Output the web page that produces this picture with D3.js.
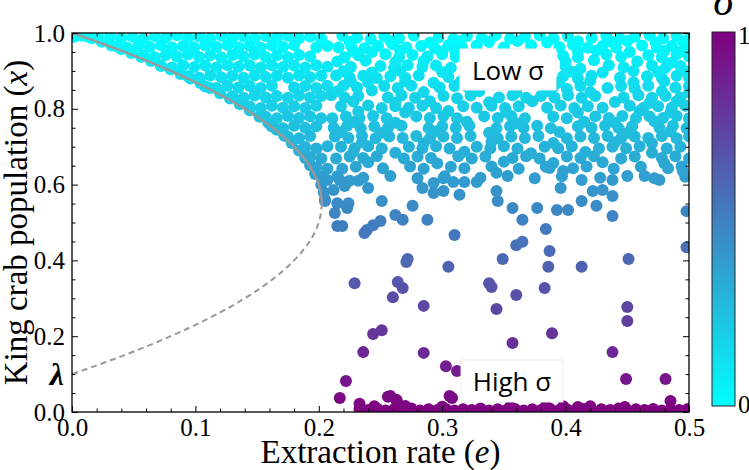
<!DOCTYPE html>
<html><head><meta charset="utf-8">
<script src="https://cdn.jsdelivr.net/npm/d3@7"></script>
<style>
html,body{margin:0;padding:0;background:#fff;}
svg{display:block;}
</style></head><body>
<svg id="chart" width="749" height="470"></svg>
<script>
// ---------- tick definitions ----------
const xTickValues = [0, 0.1, 0.2, 0.3, 0.4, 0.5];
const xTickLabels = ["0.0", "0.1", "0.2", "0.3", "0.4", "0.5"];
const xMinorTicks = [0.02,0.04,0.06,0.08,0.12,0.14,0.16,0.18,0.22,0.24,0.26,0.28,0.32,0.34,0.36,0.38,0.42,0.44,0.46,0.48];
const yTickValues = [0, 0.2, 0.4, 0.6, 0.8, 1.0];
const yTickLabels = ["0.0", "0.2", "0.4", "0.6", "0.8", "1.0"];
const yMinorTicks = [0.05,0.1,0.15,0.25,0.3,0.35,0.45,0.5,0.55,0.65,0.7,0.75,0.85,0.9,0.95];
const colorbarTicks = [0, 1];

// ---------- equilibrium curve (rate e, population x) ----------
const stableRate = [0, 0.0219, 0.0425, 0.08, 0.1125, 0.14, 0.1625, 0.18, 0.1925, 0.2, 0.2025];
const stablePop  = [1, 0.975, 0.95, 0.9, 0.85, 0.8, 0.75, 0.7, 0.65, 0.6, 0.55];
const unstableRate = [0.2025, 0.2, 0.1925, 0.18, 0.1625, 0.14, 0.1125, 0.08, 0.0425, 0];
const unstablePop  = [0.55, 0.5, 0.45, 0.4, 0.35, 0.3, 0.25, 0.2, 0.15, 0.1];

// ---------- simulated end states [extraction rate, population] ----------
const curveEdge = [[.002,.99],[.008,.993],[.016,.986],[.024,.977],[.032,.967],[.04,.957],[.048,.947],[.056,.937],[.064,.926],[.072,.915],[.08,.904],[.088,.892],[.096,.88],[.104,.868],[.112,.855],[.12,.841],[.128,.827],[.136,.812],[.144,.796],[.152,.779],[.159,.763],[.166,.745],[.172,.729],[.178,.71],[.184,.69],[.189,.67],[.193,.651],[.197,.628],[.202,.6],[.204,.58],[.205,.56]];

const leftFill = [
[.013,.99],[.022,.985],[.031,.993],[.04,.987],[.049,.991],[.058,.985],[.067,.992],[.076,.988],[.085,.994],[.094,.986],[.103,.991],[.112,.985],[.121,.993],[.13,.988],[.139,.991],[.148,.985],[.157,.992],[.166,.987],[.175,.993],[.184,.986],[.193,.991],[.202,.985],
[.036,.965],[.045,.961],[.054,.967],[.063,.963],[.072,.968],[.081,.962],[.09,.966],[.099,.961],[.108,.967],[.117,.963],[.126,.968],[.135,.962],[.144,.966],[.153,.961],[.162,.967],[.171,.963],[.18,.968],[.198,.962],[.207,.966],
[.058,.94],[.067,.936],[.076,.942],[.085,.938],[.094,.943],[.103,.937],[.112,.941],[.121,.936],[.13,.942],[.139,.938],[.148,.943],[.157,.937],[.166,.941],[.175,.936],[.184,.942],[.193,.938],
[.072,.913],[.081,.909],[.09,.915],[.099,.91],[.108,.914],[.117,.909],[.126,.915],[.135,.911],[.144,.914],[.153,.909],[.162,.915],[.171,.91],[.18,.914],[.189,.909],[.198,.915],[.207,.911],
[.094,.886],[.103,.882],[.112,.888],[.121,.883],[.13,.887],[.139,.882],[.148,.888],[.157,.884],[.166,.887],[.175,.882],[.184,.888],[.193,.883],[.202,.887],
[.108,.859],[.117,.855],[.126,.861],[.135,.856],[.144,.86],[.153,.855],[.162,.861],[.18,.856],[.189,.86],[.198,.855],[.207,.861],
[.13,.833],[.139,.829],[.148,.835],[.157,.83],[.166,.834],[.175,.829],[.184,.835],[.193,.83],[.202,.834],
[.144,.806],[.153,.802],[.162,.808],[.171,.803],[.18,.807],[.189,.802],[.198,.808],
[.157,.779],[.166,.775],[.175,.781],[.184,.776],[.193,.78],[.202,.775],
[.162,.753],[.171,.749],[.18,.755],[.189,.75],[.198,.754],
[.175,.726],[.184,.722],[.193,.728],
[.189,.699],[.198,.695],[.207,.701],
[.193,.673],[.202,.669],
[.198,.646],[.207,.642],
[.202,.621]
];

const upperBand = [
[.219,.993],[.231,.988],[.242,.984],[.253,.992],[.265,.986],[.277,.993],[.297,.988],[.309,.984],[.32,.992],[.332,.987],[.343,.994],[.355,.985],[.367,.99],[.379,.994],[.39,.986],[.402,.991],[.421,.987],[.433,.993],[.444,.985],[.456,.99],[.468,.994],[.479,.986],[.49,.992],[.5,.985],
[.216,.962],[.226,.967],[.237,.96],[.248,.966],[.26,.97],[.271,.962],[.283,.966],[.294,.96],[.305,.968],[.316,.963],[.328,.967],[.35,.962],[.372,.968],[.395,.963],[.406,.969],[.418,.961],[.43,.966],[.441,.962],[.462,.967],[.474,.961],[.486,.966],[.497,.962],
[.221,.936],[.232,.941],[.254,.944],[.265,.936],[.276,.942],[.288,.938],[.3,.944],[.311,.937],[.398,.94],[.41,.936],[.433,.943],[.445,.937],[.467,.941],[.478,.936],[.49,.944],[.5,.938],
[.226,.91],[.25,.913],[.261,.908],[.272,.915],[.284,.91],[.295,.914],[.307,.908],[.4,.912],[.412,.906],[.435,.915],[.447,.909],[.47,.914],[.481,.908],[.493,.913],
[.214,.888],[.225,.883],[.236,.887],[.247,.881],[.258,.886],[.27,.882],[.281,.888],[.305,.884],[.398,.886],[.41,.88],[.421,.887],[.444,.882],[.466,.886],[.478,.881],[.49,.887],[.5,.882],
[.22,.861],[.231,.856],[.253,.86],[.264,.855],[.275,.861],[.298,.856],[.31,.86],[.321,.856],[.39,.858],[.401,.853],[.412,.86],[.434,.855],[.445,.86],[.456,.854],[.467,.861],[.489,.856],[.5,.86],
[.21,.836],[.221,.829],[.232,.834],[.256,.83],[.267,.836],[.278,.829],[.301,.834],[.312,.828],[.323,.835],[.346,.83],[.357,.836],[.368,.829],[.38,.834],[.391,.83],[.402,.836],[.413,.829],[.424,.834],[.447,.83],[.459,.836],[.47,.829],[.481,.834],[.493,.83],
[.218,.807],[.24,.809],[.251,.802],[.262,.807],[.273,.803],[.284,.808],[.295,.802],[.317,.807],[.328,.803],[.34,.808],[.351,.802],[.362,.807],[.385,.803],[.396,.809],[.407,.802],[.418,.807],[.43,.803],[.452,.808],[.463,.802],[.475,.807],[.486,.803],[.497,.808],
[.211,.775],[.222,.78],[.233,.776],[.244,.781],[.255,.775],[.279,.78],[.29,.776],[.301,.781],[.312,.775],[.334,.78],[.345,.776],[.356,.781],[.367,.775],[.39,.779],[.401,.775],[.424,.78],[.435,.776],[.446,.781],[.457,.775],[.468,.78],[.479,.776],[.49,.781],[.5,.775],
[.212,.75],[.223,.755],[.234,.749],[.245,.754],[.256,.75],[.267,.755],[.289,.749],[.3,.754],[.311,.75],[.322,.755],[.344,.749],[.355,.754],[.366,.75],[.377,.755],[.388,.749],[.41,.754],[.421,.75],[.432,.755],[.443,.749],[.454,.754],[.476,.75],[.487,.755],[.498,.749],
[.213,.727],[.224,.723],[.235,.728],[.246,.722],[.257,.727],[.268,.723],[.279,.728],[.29,.722],[.301,.727],[.312,.723],[.323,.728],[.345,.722],[.356,.727],[.367,.723],[.378,.728],[.401,.722],[.412,.727],[.423,.723],[.434,.728],[.445,.722],[.456,.727],[.467,.723],[.478,.728],[.49,.722],[.5,.727],
[.218,.7],[.229,.696],[.24,.701],[.251,.695],[.273,.7],[.284,.696],[.295,.701],[.306,.695],[.328,.7],[.339,.696],[.35,.701],[.361,.695],[.383,.7],[.394,.696],[.405,.701],[.427,.695],[.438,.7],[.449,.696],[.46,.701],[.482,.695],[.493,.7],
[.214,.669],[.225,.674],[.236,.67],[.247,.675],[.269,.669],[.28,.674],[.291,.67],[.313,.675],[.324,.669],[.335,.674],[.357,.67],[.368,.675],[.379,.669],[.401,.674],[.412,.67],[.423,.675],[.445,.669],[.456,.674],[.478,.67],[.489,.675],[.5,.669],
[.219,.642],[.23,.647],[.252,.643],[.274,.648],[.285,.642],[.307,.647],[.318,.643],[.34,.648],[.362,.642],[.384,.647],[.406,.643],[.417,.648],[.439,.642],[.461,.647],[.483,.643],[.494,.648],
[.215,.622],[.236,.618],[.258,.623],[.28,.617],[.302,.622],[.331,.618],[.353,.623],[.375,.617],[.397,.622],[.428,.618],[.45,.623],[.472,.617],[.497,.621]
];

const upperInfill = [
[.225,.977],[.258,.979],[.29,.975],[.314,.978],[.338,.976],[.361,.979],[.385,.975],[.41,.978],[.438,.976],[.45,.979],[.473,.975],[.495,.977],
[.228,.952],[.243,.95],[.266,.953],[.3,.951],[.31,.955],[.41,.951],[.425,.954],[.452,.95],[.48,.953],[.492,.949],
[.215,.925],[.238,.927],[.262,.923],[.285,.926],[.4,.924],[.423,.928],[.458,.925],[.486,.922],
[.22,.899],[.243,.896],[.266,.9],[.3,.897],[.405,.898],[.43,.896],[.455,.9],[.475,.897],[.497,.899],
[.226,.872],[.24,.87],[.27,.873],[.293,.869],[.315,.872],[.395,.871],[.42,.874],[.455,.87],[.48,.873],
[.215,.846],[.243,.848],[.285,.844],[.33,.846],[.36,.843],[.385,.847],[.42,.844],[.478,.846],[.5,.843],
[.228,.819],[.262,.816],[.29,.82],[.338,.817],[.373,.82],[.44,.818],[.468,.815],[.49,.82],
[.232,.793],[.27,.79],[.305,.794],[.352,.791],[.41,.79],[.46,.794],[.485,.79],
[.228,.765],[.262,.763],[.32,.766],[.36,.762],[.415,.766],[.44,.763],[.472,.767],
[.218,.739],[.25,.736],[.295,.74],[.338,.737],[.395,.739],[.45,.736],[.485,.74],
[.235,.712],[.285,.709],[.34,.713],[.39,.71],[.44,.712],[.47,.709],
[.228,.686],[.262,.684],[.318,.687],[.372,.683],[.416,.686],[.47,.684],
[.24,.659],[.296,.656],[.35,.66],[.39,.657],[.43,.659],[.48,.656]
];

const sparsePoints = [
[.207,.612],[.217,.612],[.225,.61],[.212,.586],[.221,.596],[.232,.61],[.24,.591],[.251,.557],[.205,.557],[.215,.551],[.224,.551],[.213,.525],[.223,.538],[.215,.491],[.219,.491],[.239,.48],[.244,.493],[.25,.504],[.262,.52],
[.237,.472],[.268,.507],[.288,.507],[.31,.467],
[.271,.396],[.272,.404],[.305,.383],[.229,.34],[.264,.343],[.268,.327],[.26,.303],[.285,.28],[.244,.206],[.251,.216],[.236,.158],[.285,.156],[.303,.121],[.312,.108],[.222,.082],[.217,.037],[.258,.042],[.263,.032],[.306,.042],
[.365,.507],[.384,.483],[.36,.44],[.365,.449],[.349,.404],[.387,.425],[.386,.383],[.413,.383],[.451,.404],[.498,.435],[.338,.34],[.34,.33],[.36,.309],[.383,.327],[.344,.272],[.45,.277],[.45,.24],[.389,.208],[.357,.182],[.438,.158],[.449,.087],[.481,.087],[.485,.029],
[.344,.631],[.328,.607],[.318,.607],[.309,.607],[.301,.617],[.293,.604],[.284,.591],[.344,.583],[.293,.578],[.301,.583],[.314,.573],[.276,.544],[.345,.557],[.357,.538],[.377,.538],[.393,.533],
[.387,.644],[.398,.636],[.413,.612],[.438,.612],[.464,.623],[.476,.612],[.495,.636],[.396,.591],[.422,.583],[.43,.586],[.438,.57],[.413,.557],[.425,.544],[.498,.53],[.402,.533],[.438,.517]
];

const floorPoints = [
[.233,.008],[.24,.005],[.247,.009],[.254,.004],[.261,.007],[.268,.005],[.275,.009],[.282,.004],[.289,.007],[.296,.005],[.303,.008],[.31,.004],[.317,.007],[.324,.005],[.331,.009],[.338,.004],[.345,.007],[.352,.005],[.359,.008],[.366,.004],[.373,.007],[.38,.005],[.387,.009],[.394,.004],[.401,.007],[.408,.005],[.415,.008],[.422,.004],[.429,.007],[.436,.005],[.443,.009],[.45,.004],[.457,.007],[.464,.005],[.471,.008],[.478,.004],[.485,.007],[.492,.005],[.499,.008],
[.233,.022],[.245,.015],[.256,.04],[.263,.03],[.27,.016],[.3,.014],[.308,.037],[.355,.014],[.384,.016],[.398,.015],[.41,.013],[.42,.015],[.448,.013]
];

// ---------- drawing ----------
const svg = d3.select("#chart");
const L = 72, R = 689, T = 33, B = 412;
const x = d3.scaleLinear().domain([0, 0.5]).range([L, R]);
const y = d3.scaleLinear().domain([0, 1]).range([B, T]);
const sigmaColor = d3.scaleLinear().domain([0, 1]).range(["#00ffff", "#800080"]);
const popColor = d3.scaleLinear().domain([1, 0]).range(["#00ffff", "#800080"]);

const SERIF = "Liberation Serif";

svg.append("defs").append("clipPath").attr("id", "plotclip")
  .append("rect").attr("x", L).attr("y", T).attr("width", R - L).attr("height", B - T);

const plot = svg.append("g").attr("clip-path", "url(#plotclip)");
const allPoints = [].concat(curveEdge, leftFill, upperBand, upperInfill, sparsePoints, floorPoints);
plot.selectAll("circle").data(allPoints).join("circle")
  .attr("cx", d => x(d[0])).attr("cy", d => y(d[1])).attr("r", 6)
  .attr("fill", d => popColor(d[1]));

const stable = stableRate.map((r, i) => [r, stablePop[i]]);
const unstable = unstableRate.map((r, i) => [r, unstablePop[i]]);
const line = d3.line().x(d => x(d[0])).y(d => y(d[1])).curve(d3.curveMonotoneY);
plot.append("path").attr("d", line(stable)).attr("fill", "none").attr("stroke", "#999").attr("stroke-width", 2.5);
plot.append("path").attr("d", line(unstable)).attr("fill", "none").attr("stroke", "#999").attr("stroke-width", 2).attr("stroke-dasharray", "6,4");

// annotation boxes
function label(x0, y0, w, h, txt, base) {
  svg.append("rect").attr("x", x0).attr("y", y0).attr("width", w).attr("height", h)
    .attr("fill", "#fff").attr("stroke", "#eee").attr("stroke-width", 1);
  svg.append("text").attr("x", x0 + w / 2).attr("y", base).attr("text-anchor", "middle")
    .attr("font-family", "Open Sans").attr("font-size", 26).attr("fill", "#000").text(txt);
}
label(460, 49, 96, 41, "Low σ", 80);
label(461, 360, 102, 42, "High σ", 391);

// axes
function styleAxis(g) {
  g.select(".domain").remove();
  g.selectAll(".tick line").attr("stroke", "#000").attr("stroke-width", 1);
  g.selectAll("text").attr("font-family", SERIF).attr("font-size", 25).attr("fill", "#000");
}
svg.append("g").attr("transform", `translate(0,${B})`)
  .call(d3.axisBottom(x).tickValues(xTickValues).tickFormat((d, i) => xTickLabels[i]).tickSize(-6).tickPadding(6)).call(styleAxis);
svg.append("g").attr("transform", `translate(0,${B})`)
  .call(d3.axisBottom(x).tickValues(xMinorTicks).tickFormat("").tickSize(-3.5)).call(styleAxis);
svg.append("g").attr("transform", `translate(0,${T})`)
  .call(d3.axisTop(x).tickValues(xTickValues).tickFormat("").tickSize(-6)).call(styleAxis);
svg.append("g").attr("transform", `translate(0,${T})`)
  .call(d3.axisTop(x).tickValues(xMinorTicks).tickFormat("").tickSize(-3.5)).call(styleAxis);
svg.append("g").attr("transform", `translate(${L},0)`)
  .call(d3.axisLeft(y).tickValues(yTickValues).tickFormat((d, i) => yTickLabels[i]).tickSize(-6).tickPadding(7)).call(styleAxis);
svg.append("g").attr("transform", `translate(${L},0)`)
  .call(d3.axisLeft(y).tickValues(yMinorTicks).tickFormat("").tickSize(-3.5)).call(styleAxis);
svg.append("g").attr("transform", `translate(${R},0)`)
  .call(d3.axisRight(y).tickValues(yTickValues).tickFormat("").tickSize(-6)).call(styleAxis);
svg.append("g").attr("transform", `translate(${R},0)`)
  .call(d3.axisRight(y).tickValues(yMinorTicks).tickFormat("").tickSize(-3.5)).call(styleAxis);

svg.append("rect").attr("x", L).attr("y", T).attr("width", R - L).attr("height", B - T)
  .attr("fill", "none").attr("stroke", "#000").attr("stroke-width", 1.3);

// lambda label at x = 0.1
svg.append("text").attr("x", 64).attr("y", y(0.1) + 11).attr("text-anchor", "end")
  .attr("font-family", SERIF).attr("font-style", "italic").attr("font-weight", "bold")
  .attr("font-size", 32).attr("fill", "#000").text("λ");

// axis titles
const xt = svg.append("text").attr("x", (L + R) / 2).attr("y", 463).attr("text-anchor", "middle")
  .attr("font-family", SERIF).attr("font-size", 33).attr("fill", "#000");
xt.append("tspan").text("Extraction rate (");
xt.append("tspan").attr("font-style", "italic").text("e");
xt.append("tspan").text(")");
const yt = svg.append("text").attr("transform", `translate(27,${(T + B) / 2}) rotate(-90)`).attr("text-anchor", "middle")
  .attr("font-family", SERIF).attr("font-size", 33).attr("fill", "#000");
yt.append("tspan").text("King crab population (");
yt.append("tspan").attr("font-style", "italic").text("x");
yt.append("tspan").text(")");

// colorbar
const cbX = 712, cbW = 23, cbT = 32, cbB = 406;
const cb = d3.scaleLinear().domain([0, 1]).range([cbB, cbT]);
const grad = svg.select("defs").append("linearGradient").attr("id", "cbgrad")
  .attr("x1", 0).attr("y1", 1).attr("x2", 0).attr("y2", 0);
[0, 0.25, 0.5, 0.75, 1].forEach(t => grad.append("stop").attr("offset", t).attr("stop-color", sigmaColor(t)));
svg.append("rect").attr("x", cbX).attr("y", cbT).attr("width", cbW).attr("height", cbB - cbT)
  .attr("fill", "url(#cbgrad)").attr("stroke", "#222").attr("stroke-width", 1);
svg.selectAll(".cbtick").data(colorbarTicks).join("text")
  .attr("x", cbX + cbW + 3).attr("y", d => cb(d) + (d === 1 ? 12 : 7))
  .attr("font-family", SERIF).attr("font-size", 25).attr("fill", "#000").text(d => String(d));
svg.append("text").attr("x", cbX + cbW / 2).attr("y", 15).attr("text-anchor", "middle")
  .attr("font-family", SERIF).attr("font-style", "italic").attr("font-size", 42).attr("fill", "#000").text("σ");
</script></body></html>
